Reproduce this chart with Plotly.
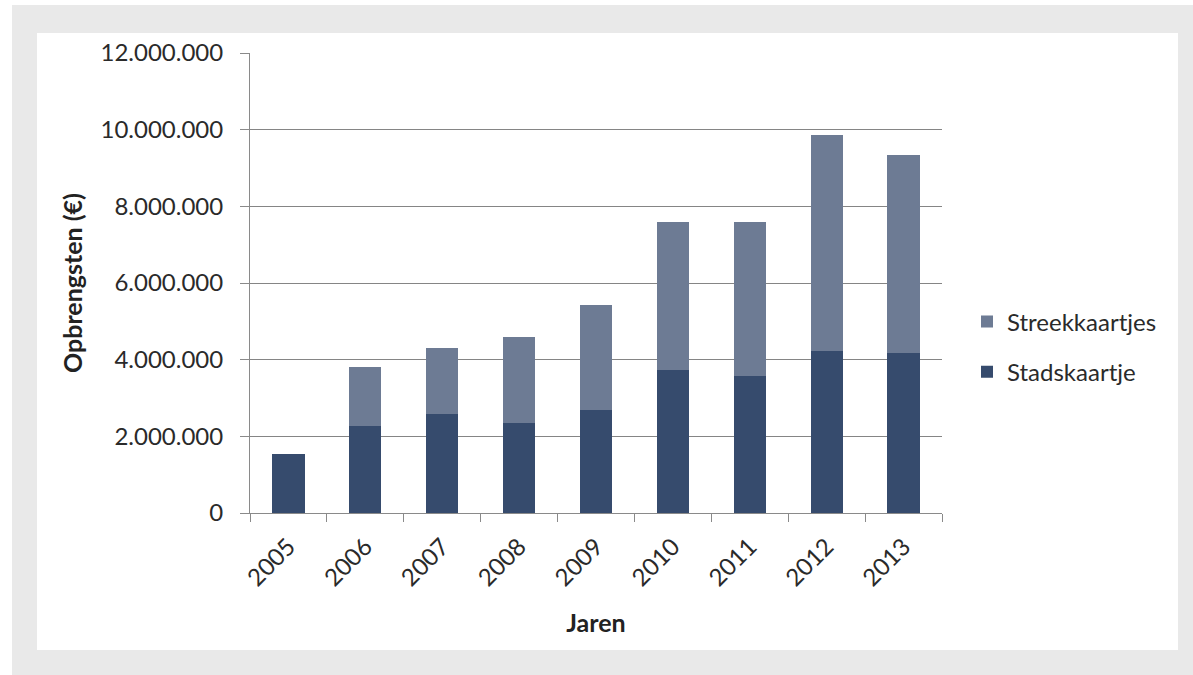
import plotly.graph_objects as go

years = ["2005", "2006", "2007", "2008", "2009", "2010", "2011", "2012", "2013"]
stadskaartje = [1540000, 2280000, 2570000, 2340000, 2690000, 3730000, 3570000, 4220000, 4170000]
totaal = [1540000, 3820000, 4310000, 4580000, 5430000, 7580000, 7580000, 9870000, 9330000]
streekkaartjes = [t - s for t, s in zip(totaal, stadskaartje)]
y_ticks = [0, 2000000, 4000000, 6000000, 8000000, 10000000, 12000000]

FONT = "Lato"
W, H = 1193, 675
L, R, T, B = 250, 942, 53, 513


def px(x):
    return (x - L) / (R - L)


def py(y):
    return (B - y) / (B - T)


fig = go.Figure()
fig.add_trace(go.Bar(x=years, y=stadskaartje, name="Stadskaartje",
                     marker=dict(color="#364b6d", line=dict(width=0)),
                     legendgroup="a", legendrank=2))
fig.add_trace(go.Bar(x=years, y=streekkaartjes, name="Streekkaartjes",
                     marker=dict(color="#6d7b94", line=dict(width=0)),
                     legendgroup="b", legendrank=1))

shapes = [
    dict(type="rect", xref="paper", yref="paper", layer="below",
         x0=px(12), x1=px(1200), y0=py(680), y1=py(5),
         fillcolor="#e9e9e9", line=dict(width=0)),
    dict(type="rect", xref="paper", yref="paper", layer="below",
         x0=px(37), x1=px(1178), y0=py(650), y1=py(33),
         fillcolor="white", line=dict(width=0)),
]

fig.update_layout(
    width=W, height=H, autosize=False,
    margin=dict(l=L, r=W - R, t=T, b=H - B, pad=0),
    paper_bgcolor="white", plot_bgcolor="rgba(0,0,0,0)",
    barmode="stack", bargap=0.58,
    separators=",.",
    font=dict(family=FONT, color="#333333"),
    shapes=shapes,
    xaxis=dict(
        type="category", tickangle=-45,
        tickfont=dict(size=24, color="#2a2a2a"),
        showline=True, linecolor="#8a8a8a", linewidth=1,
        ticks="outside", tickson="boundaries", ticklen=8, tickcolor="#8a8a8a",
        ticklabelstandoff=9,
        title=dict(text="<b>Jaren</b>", font=dict(size=25, color="#222222"), standoff=24),
        showgrid=False,
    ),
    yaxis=dict(
        range=[0, 12000000], tickvals=y_ticks, tickformat=",d",
        tickfont=dict(size=24, color="#2a2a2a"),
        showline=True, linecolor="#8a8a8a", linewidth=1,
        ticks="outside", ticklen=9, tickcolor="#8a8a8a",
        ticklabelstandoff=12,
        showgrid=True, gridcolor="#858585", gridwidth=1,
        zeroline=False,
        title=dict(text="<b>Opbrengsten (€)</b>", font=dict(size=25, color="#222222"), standoff=10),
    ),
    legend=dict(
        x=px(967), y=py(347), xanchor="left", yanchor="middle",
        traceorder="grouped", tracegroupgap=16,
        font=dict(size=24, color="#2a2a2a"),
        bgcolor="rgba(0,0,0,0)",
    ),
)

fig.write_html("out.html")
